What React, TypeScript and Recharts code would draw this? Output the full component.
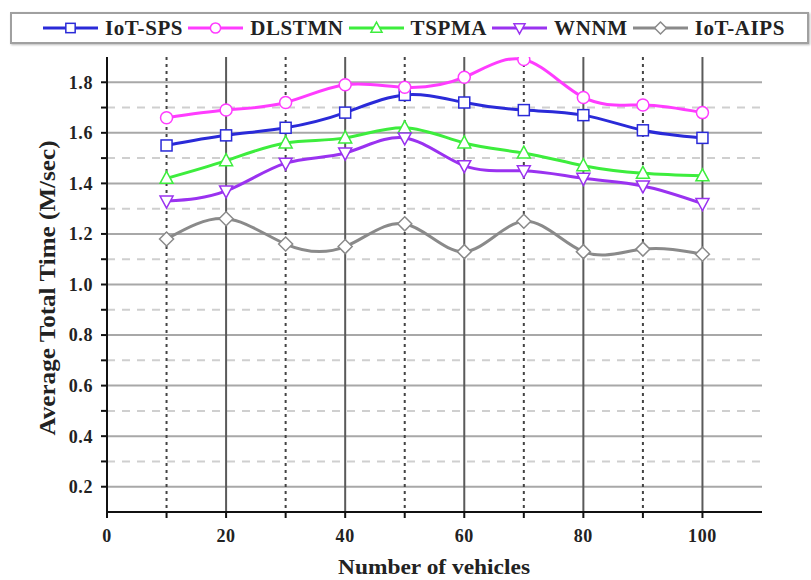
import React from 'react';
import { LineChart, Line, XAxis, YAxis, CartesianGrid } from 'recharts';

const vehicles = [10, 20, 30, 40, 50, 60, 70, 80, 90, 100];
const iotSps = [1.55, 1.59, 1.62, 1.68, 1.75, 1.72, 1.69, 1.67, 1.61, 1.58];
const dlstmn = [1.66, 1.69, 1.72, 1.79, 1.78, 1.82, 1.89, 1.74, 1.71, 1.68];
const tspma = [1.42, 1.49, 1.56, 1.58, 1.62, 1.56, 1.52, 1.47, 1.44, 1.43];
const wnnm = [1.33, 1.37, 1.48, 1.52, 1.58, 1.47, 1.45, 1.42, 1.39, 1.32];
const iotAips = [1.18, 1.26, 1.16, 1.15, 1.24, 1.13, 1.25, 1.13, 1.14, 1.12];

const xTicks = [0, 10, 20, 30, 40, 50, 60, 70, 80, 90, 100];
const yMajor = [0.2, 0.4, 0.6, 0.8, 1.0, 1.2, 1.4, 1.6, 1.8];
const yMinor = [0.3, 0.5, 0.7, 0.9, 1.1, 1.3, 1.5, 1.7];
const xMajor = [20, 40, 60, 80, 100];
const xMinor = [10, 30, 50, 70, 90];

type Shape = 'square' | 'circle' | 'up' | 'down' | 'diamond';

const series: { key: string; name: string; color: string; shape: Shape; values: number[] }[] = [
  { key: 'sps', name: 'IoT-SPS', color: '#2a2ad8', shape: 'square', values: iotSps },
  { key: 'dl', name: 'DLSTMN', color: '#ff3cff', shape: 'circle', values: dlstmn },
  { key: 'ts', name: 'TSPMA', color: '#3ded3d', shape: 'up', values: tspma },
  { key: 'wn', name: 'WNNM', color: '#9a32f0', shape: 'down', values: wnnm },
  { key: 'ai', name: 'IoT-AIPS', color: '#8a8a8a', shape: 'diamond', values: iotAips },
];

const data = vehicles.map((v, i) => {
  const row: any = { x: v };
  series.forEach(s => { row[s.key] = s.values[i]; });
  return row;
});

const serif = '"Liberation Serif", "DejaVu Serif", serif';

const Marker = ({ shape, cx, cy, color, k = 1 }: { shape: Shape; cx: number; cy: number; color: string; k?: number }) => {
  const p = { fill: '#fff', stroke: color, strokeWidth: 1.5 };
  if (shape === 'square') return <rect x={cx - 5.5 * k} y={cy - 5.5 * k} width={11 * k} height={11 * k} {...p} />;
  if (shape === 'circle') return <circle cx={cx} cy={cy} r={6 * k} {...p} />;
  if (shape === 'up') return <polygon points={`${cx},${cy - 7 * k} ${cx + 6.5 * k},${cy + 5 * k} ${cx - 6.5 * k},${cy + 5 * k}`} {...p} />;
  if (shape === 'down') return <polygon points={`${cx},${cy + 7 * k} ${cx + 6.5 * k},${cy - 5 * k} ${cx - 6.5 * k},${cy - 5 * k}`} {...p} />;
  return <polygon points={`${cx},${cy - 7 * k} ${cx + 7 * k},${cy} ${cx},${cy + 7 * k} ${cx - 7 * k},${cy}`} {...p} />;
};

const LegendBox = () => (
  <div
    style={{
      position: 'absolute', left: 10, top: 12, width: 799, height: 32,
      border: '2px solid #a0a0a0', boxShadow: '1px 1px 2px #bbb', background: '#fff',
      display: 'flex', alignItems: 'center', paddingLeft: 31, boxSizing: 'border-box',
      fontFamily: serif, fontWeight: 'bold', fontSize: 21, color: '#222', whiteSpace: 'nowrap',
    }}
  >
    {series.map(s => (
      <div key={s.key} style={{ display: 'flex', alignItems: 'center', marginRight: 5 }}>
        <svg width={55} height={20}>
          <line x1={0} y1={10} x2={55} y2={10} stroke={s.color} strokeWidth={3} />
          <Marker shape={s.shape} cx={27.5} cy={10} color={s.color} k={0.85} />
        </svg>
        <span style={{ marginLeft: 7, letterSpacing: 0.6 }}>{s.name}</span>
      </div>
    ))}
  </div>
);

const tickStyle = { fontFamily: serif, fontWeight: 'bold' as const, fontSize: 18, fill: '#222', letterSpacing: 0.6 };

export default function App() {
  return (
    <div style={{ position: 'absolute', left: 0, top: 0, width: 811, height: 580, background: '#fff' }}>
      <LineChart
        width={811}
        height={580}
        data={data}
        margin={{ top: 57, right: 49, bottom: 38, left: 47 }}
      >
        <CartesianGrid horizontalValues={yMajor} vertical={false} stroke="#a8a8a8" strokeWidth={2} />
        <CartesianGrid horizontalValues={yMinor} vertical={false} stroke="#cfcfcf" strokeWidth={2} strokeDasharray="8 7" />
        <CartesianGrid verticalValues={xMajor} horizontal={false} stroke="#5a5a5a" strokeWidth={2} />
        <CartesianGrid verticalValues={xMinor} horizontal={false} stroke="#444" strokeWidth={2} strokeDasharray="3 4" />
        <XAxis
          dataKey="x"
          type="number"
          domain={[0, 110]}
          ticks={xTicks}
          allowDataOverflow
          tickFormatter={(v: number) => (v % 20 === 0 ? String(v) : '')}
          tick={tickStyle}
          tickSize={6}
          tickMargin={11}
          height={30}
          axisLine={{ stroke: '#111', strokeWidth: 2 }}
          tickLine={{ stroke: '#111', strokeWidth: 2 }}
          label={{
            content: () => (
              <text x={434} y={574} textAnchor="middle" textLength={192} lengthAdjust="spacingAndGlyphs"
                style={{ fontFamily: serif, fontWeight: 'bold', fontSize: 21, fill: '#222' }}>
                Number of vehicles
              </text>
            ),
          }}
        />
        <YAxis
          type="number"
          domain={[0.1, 1.9]}
          ticks={[...yMajor, ...yMinor].sort((a, b) => a - b)}
          allowDataOverflow
          tickFormatter={(v: number) => (Math.round(v * 10) % 2 === 0 ? v.toFixed(1) : '')}
          tick={tickStyle}
          tickSize={6}
          tickMargin={8}
          width={60}
          axisLine={{ stroke: '#111', strokeWidth: 2 }}
          tickLine={{ stroke: '#111', strokeWidth: 2 }}
          label={{
            content: () => (
              <text
                x={47}
                y={288}
                textAnchor="middle"
                dominantBaseline="central"
                transform="rotate(-90 47 288)"
                textLength={295}
                lengthAdjust="spacingAndGlyphs"
                style={{ fontFamily: serif, fontWeight: 'bold', fontSize: 24, fill: '#222' }}
              >
                Average Total Time (M/sec)
              </text>
            ),
          }}
        />
        {series.map(s => (
          <Line
            key={s.key}
            dataKey={s.key}
            name={s.name}
            type="natural"
            stroke={s.color}
            strokeWidth={3}
            isAnimationActive={false}
            dot={(props: any) => (
              <Marker key={`${s.key}-${props.index}`} shape={s.shape} cx={props.cx} cy={props.cy} color={s.color} />
            )}
            activeDot={false}
          />
        ))}
      </LineChart>
      <LegendBox />
    </div>
  );
}
